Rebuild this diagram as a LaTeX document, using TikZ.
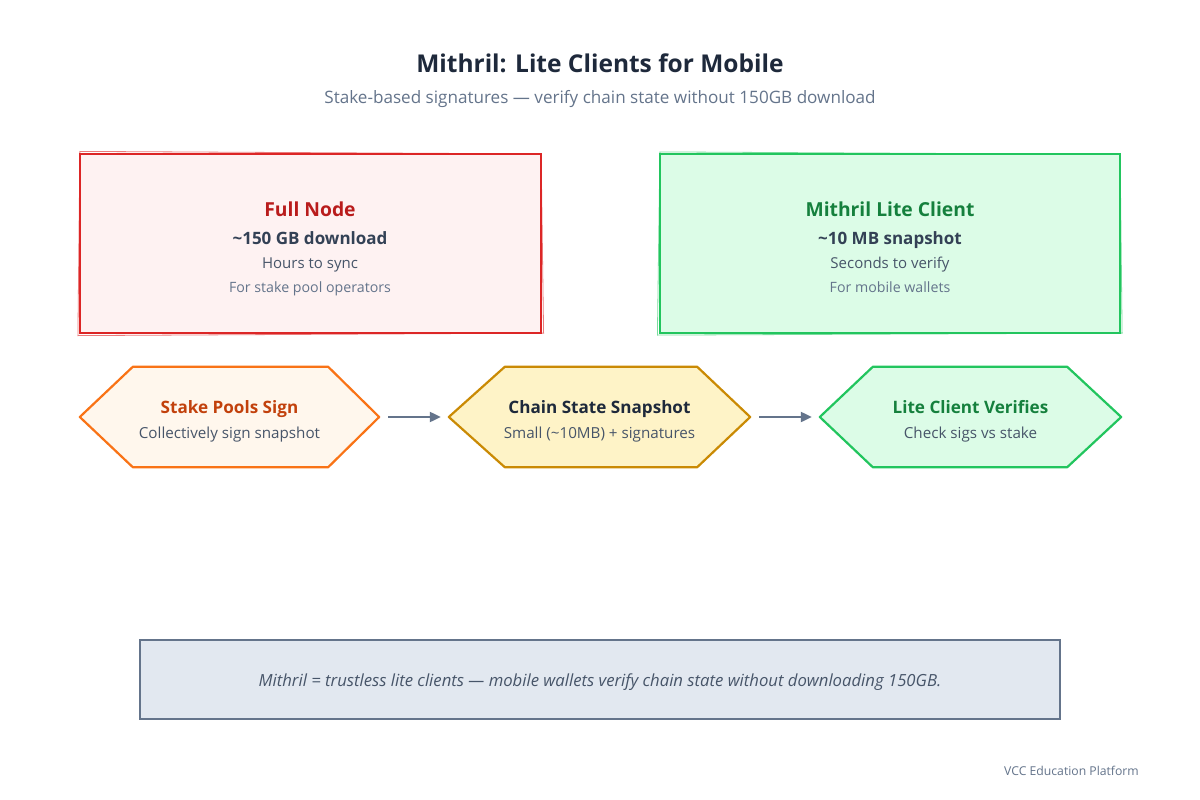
\documentclass[tikz,border=0pt]{standalone}
\usepackage{fontspec}
\setmainfont{Open Sans}
\usetikzlibrary{arrows.meta,calc}
\definecolor{ttl}{HTML}{1E293B}
\definecolor{sub}{HTML}{64748B}
\definecolor{dk}{HTML}{334155}
\definecolor{md}{HTML}{475569}
\definecolor{redS}{HTML}{DC2626}
\definecolor{redF}{HTML}{FEF2F2}
\definecolor{redT}{HTML}{B91C1C}
\definecolor{grnS}{HTML}{22C55E}
\definecolor{grnF}{HTML}{DCFCE7}
\definecolor{grnT}{HTML}{15803D}
\definecolor{orS}{HTML}{F97316}
\definecolor{orF}{HTML}{FFF7ED}
\definecolor{orT}{HTML}{C2410C}
\definecolor{yeS}{HTML}{CA8A04}
\definecolor{yeF}{HTML}{FEF3C7}
\definecolor{slF}{HTML}{E2E8F0}
\definecolor{slS}{HTML}{64748B}
\tikzset{
  txt/.style={inner sep=0pt,anchor=base},
  hexbox/.style={minimum width=#1,minimum height=100pt,inner sep=0pt},
  flow/.style={-{Triangle[length=11pt,width=10pt]},line width=2.2pt,draw=sub,shorten <=9pt,shorten >=8pt},
  bigbox/.style={line width=2.2pt,minimum height=179pt,inner sep=0pt},
}
\begin{document}
\begin{tikzpicture}[x=1pt,y=-1pt]
\useasboundingbox[fill=white] (0,0) rectangle (1200,800);
% title
\node[txt,font=\fontsize{24.5}{28}\selectfont\bfseries,text=ttl] (title) at (600,72.5) {Mithril: Lite Clients for Mobile};
\node[txt,font=\fontsize{17.1}{20}\selectfont,text=sub] (subtitle) at (600,103.4) {Stake-based signatures — verify chain state without 150GB download};
% big boxes
\node[bigbox,draw=redS,fill=redF,minimum width=461pt] (full) at (310.5,243.5) {};
\draw[redS,line width=0.8pt,opacity=0.6] ($(full.north west)+(1,-1.5)$) -- ($(full.north east)+(-1,1)$) -- ($(full.south east)+(1.5,-1)$) -- ($(full.south west)+(-1,1.5)$) -- cycle;
\node[txt,font=\fontsize{19.3}{22}\selectfont\bfseries,text=redT] (fullT) at (310,216.4) {Full Node};
\node[txt,font=\fontsize{17}{20}\selectfont\bfseries,text=dk] (fullA) at (310,244.3) {\textasciitilde150 GB download};
\node[txt,font=\fontsize{15}{18}\selectfont,text=md] (fullB) at (310,268.4) {Hours to sync};
\node[txt,font=\fontsize{14.2}{17}\selectfont,text=sub] (fullC) at (310,292.1) {For stake pool operators};

\node[bigbox,draw=grnS,fill=grnF,minimum width=460pt] (lite) at (890,243.5) {};
\draw[grnS,line width=0.8pt,opacity=0.6] ($(lite.north west)+(1,-1)$) -- ($(lite.north east)+(-1,1.5)$) -- ($(lite.south east)+(1,-1)$) -- ($(lite.south west)+(-1.5,1)$) -- cycle;
\node[txt,font=\fontsize{19.3}{22}\selectfont\bfseries,text=grnT] (liteT) at (890,216.4) {Mithril Lite Client};
\node[txt,font=\fontsize{17}{20}\selectfont\bfseries,text=dk] (liteA) at (890,244.3) {\textasciitilde10 MB snapshot};
\node[txt,font=\fontsize{15}{18}\selectfont,text=md] (liteB) at (890,268.4) {Seconds to verify};
\node[txt,font=\fontsize{14.2}{17}\selectfont,text=sub] (liteC) at (890,292.1) {For mobile wallets};

% hexagons
\node[hexbox=299pt] (h1) at (229.5,417) {};
\node[hexbox=301pt] (h2) at (599.5,417) {};
\node[hexbox=301pt] (h3) at (970.5,417) {};
\draw[line width=2.2pt,draw=orS,fill=orF,line join=round] (h1.west) -- ($(h1.north west)+(53,0)$) -- ($(h1.north east)+(-51,0)$) -- (h1.east) -- ($(h1.south east)+(-51,0)$) -- ($(h1.south west)+(53,0)$) -- cycle;
\draw[line width=2.2pt,draw=yeS,fill=yeF,line join=round] (h2.west) -- ($(h2.north west)+(56,0)$) -- ($(h2.north east)+(-53,0)$) -- (h2.east) -- ($(h2.south east)+(-53,0)$) -- ($(h2.south west)+(56,0)$) -- cycle;
\draw[line width=2.2pt,draw=grnS,fill=grnF,line join=round] (h3.west) -- ($(h3.north west)+(53,0)$) -- ($(h3.north east)+(-54,0)$) -- (h3.east) -- ($(h3.south east)+(-54,0)$) -- ($(h3.south west)+(53,0)$) -- cycle;

\node[txt,font=\fontsize{17.1}{20}\selectfont\bfseries,text=orT] (h1T) at (229.5,413.4) {Stake Pools Sign};
\node[txt,font=\fontsize{15.2}{18}\selectfont,text=md] (h1S) at (229.5,438.5) {Collectively sign snapshot};
\node[txt,font=\fontsize{17.1}{20}\selectfont\bfseries,text=ttl] (h2T) at (599.5,413.4) {Chain State Snapshot};
\node[txt,font=\fontsize{15.2}{18}\selectfont,text=md] (h2S) at (599.5,438.5) {Small (\textasciitilde10MB) + signatures};
\node[txt,font=\fontsize{17.1}{20}\selectfont\bfseries,text=grnT] (h3T) at (970.5,413.4) {Lite Client Verifies};
\node[txt,font=\fontsize{15.2}{18}\selectfont,text=md] (h3S) at (970.5,438.5) {Check sigs vs stake};

\draw[flow] (h1.east) -- (h2.west);
\draw[flow] (h2.east) -- (h3.west);

% bottom
\node[line width=2.2pt,draw=slS,fill=slF,minimum width=920pt,minimum height=79pt,inner sep=0pt] (note) at (600,679.5) {};
\node[txt,font=\fontsize{16.7}{20}\selectfont\itshape,text=md] (noteT) at (600,686.5) {Mithril = trustless lite clients — mobile wallets verify chain state without downloading 150GB.};
\node[anchor=base east,inner sep=0pt,font=\fontsize{12.2}{14}\selectfont,text=sub] (foot) at (1139,775.8) {VCC Education Platform};
\end{tikzpicture}
\end{document}
